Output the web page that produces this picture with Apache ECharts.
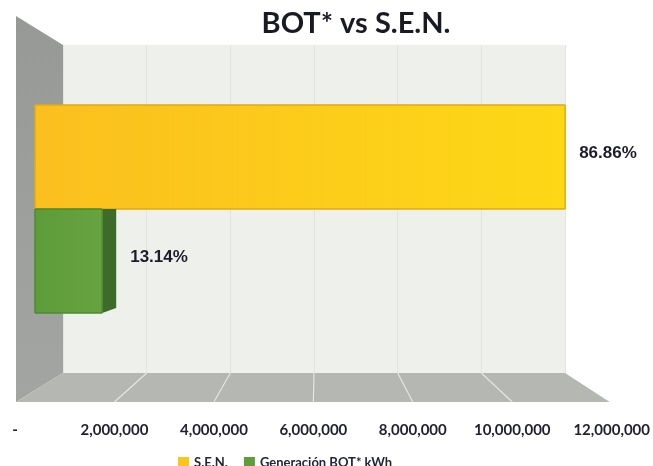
<!DOCTYPE html>
<html>
<head>
<meta charset="utf-8">
<script src="https://cdn.jsdelivr.net/npm/echarts@6/dist/echarts.min.js"></script>
<style>
  html, body { margin: 0; padding: 0; background: #fff; }
  #chart { width: 653px; height: 466px; }
</style>
</head>
<body>
<div id="chart"></div>
<script>
// BOT* vs S.E.N. - barras horizontales con aspecto 3D (estilo Excel)
const seriesNames = ['S.E.N.', 'Generación BOT* kWh'];
const energyValues = [11360000, 1440000]; // kWh
const percentLabels = ['86.86%', '13.14%'];
const tickLabels = ['-', '2,000,000', '4,000,000', '6,000,000', '8,000,000', '10,000,000', '12,000,000'];
const axisMax = 12000000;
const axisStep = 2000000;

// orden de abajo hacia arriba en el eje de categorías
const categoryOrder = [seriesNames[1], seriesNames[0]];

const chart = echarts.init(document.getElementById('chart'));

function barRenderer(face, border, side, sideDx, sideDy, label) {
  return function (params, api) {
    const start = api.coord([0, api.value(1)]);
    const end = api.coord([api.value(0), api.value(1)]);
    const band = api.size([0, 1])[1];
    const top = start[1] - band / 2;
    const bottom = top + band;
    const children = [];
    if (sideDx) {
      children.push({
        type: 'polygon',
        shape: { points: [[end[0], top], [end[0] + sideDx, top], [end[0] + sideDx, bottom - sideDy], [end[0], bottom]] },
        style: { fill: side }
      });
    }
    children.push({
      type: 'rect',
      shape: { x: start[0], y: top, width: end[0] - start[0], height: band },
      style: { fill: face, stroke: border, lineWidth: 1 }
    });
    children.push({
      type: 'text',
      style: {
        text: label,
        x: end[0] + sideDx + 14,
        y: start[1] - 4,
        verticalAlign: 'middle',
        fill: '#1c1c2c',
        font: 'bold 17px "Liberation Sans", Arial, sans-serif'
      }
    });
    return { type: 'group', children: children };
  };
}

const yellowFill = new echarts.graphic.LinearGradient(0, 0, 1, 0, [
  { offset: 0, color: '#fbbf1f' },
  { offset: 1, color: '#fdd816' }
]);
const greenFill = new echarts.graphic.LinearGradient(0, 0, 1, 0, [
  { offset: 0, color: '#5e9b39' },
  { offset: 1, color: '#67a341' }
]);

const option = {
  animation: false,
  title: {
    text: 'BOT* vs S.E.N.',
    left: 356,
    top: 9,
    padding: 0,
    textAlign: 'center',
    textStyle: {
      fontFamily: 'Lato, sans-serif',
      fontWeight: 'bold',
      fontSize: 29,
      color: '#1a1a24'
    }
  },
  legend: {
    data: seriesNames,
    left: 173,
    top: 451,
    itemWidth: 11,
    itemHeight: 11,
    itemGap: 16,
    icon: 'rect',
    textStyle: { fontFamily: 'Lato, sans-serif', fontSize: 13, color: '#25253a', fontWeight: 'bold' }
  },
  grid: [
    { left: 63, top: 45, width: 502, height: 328, show: true, backgroundColor: '#eef0eb', borderWidth: 0 },
    { left: 15, top: 45, width: 597, height: 357 },
    { left: 35, top: 105, width: 560, height: 208 }
  ],
  xAxis: [
    {
      gridIndex: 0, type: 'value', min: 0, max: axisMax, interval: axisStep,
      axisLine: { show: false }, axisTick: { show: false }, axisLabel: { show: false },
      splitLine: { show: true, lineStyle: { color: '#e2e5df', width: 1 } }
    },
    {
      gridIndex: 1, type: 'value', min: 0, max: axisMax, interval: axisStep,
      axisLine: { show: false }, axisTick: { show: false }, splitLine: { show: false },
      axisLabel: {
        margin: 21,
        formatter: (v, i) => tickLabels[i],
        fontFamily: 'Lato, sans-serif',
        fontWeight: 'bold',
        fontSize: 15,
        color: '#1f1f30'
      }
    },
    { gridIndex: 2, type: 'value', min: 0, max: axisMax, show: false }
  ],
  yAxis: [
    { gridIndex: 0, type: 'value', show: false },
    { gridIndex: 1, type: 'value', show: false },
    { gridIndex: 2, type: 'category', data: categoryOrder, show: false }
  ],
  series: [
    {
      name: seriesNames[0],
      type: 'custom',
      xAxisIndex: 2, yAxisIndex: 2, z: 3,
      itemStyle: { color: '#fcc51c' },
      renderItem: barRenderer(yellowFill, '#e2a90e', null, 0, 0, percentLabels[0]),
      data: [[energyValues[0], categoryOrder.indexOf(seriesNames[0])]]
    },
    {
      name: seriesNames[1],
      type: 'custom',
      xAxisIndex: 2, yAxisIndex: 2, z: 3,
      itemStyle: { color: '#5f9c3a' },
      renderItem: barRenderer(greenFill, '#4f8a2f', '#3e6a2a', 14, 5, percentLabels[1]),
      data: [[energyValues[1], categoryOrder.indexOf(seriesNames[1])]]
    }
  ]
};
chart.setOption(option);

// paredes y piso del "cubo" 3D, a partir de los ejes trasero y frontal
const backTop = 45, backY = 373, frontY = 402, outerTop = 16;
const backPx = v => chart.convertToPixel({ xAxisIndex: 0 }, v);
const frontPx = v => chart.convertToPixel({ xAxisIndex: 1 }, v);
const outerX = frontPx(0) + 1;
const graphics = [
  {
    type: 'polygon', z: 1,
    shape: { points: [[outerX, outerTop], [backPx(0), backTop], [backPx(0), backY], [outerX, frontY]] },
    style: {
      fill: new echarts.graphic.LinearGradient(0, 0, 0, 1, [
        { offset: 0, color: '#969996' },
        { offset: 1, color: '#a2a5a1' }
      ])
    }
  },
  {
    type: 'polygon', z: 1,
    shape: { points: [[backPx(0), backY], [backPx(axisMax), backY], [frontPx(axisMax) - 2, frontY], [outerX, frontY]] },
    style: { fill: '#b4b7b2' }
  }
];
tickLabels.forEach((t, i) => {
  const v = i * axisStep;
  if (v === 0 || v === axisMax) return;
  graphics.push({
    type: 'line', z: 1,
    shape: { x1: backPx(v), y1: backY, x2: frontPx(v), y2: frontY },
    style: { stroke: '#e4e6e2', lineWidth: 1.2 }
  });
});
chart.setOption({ graphic: graphics });
</script>
</body>
</html>
